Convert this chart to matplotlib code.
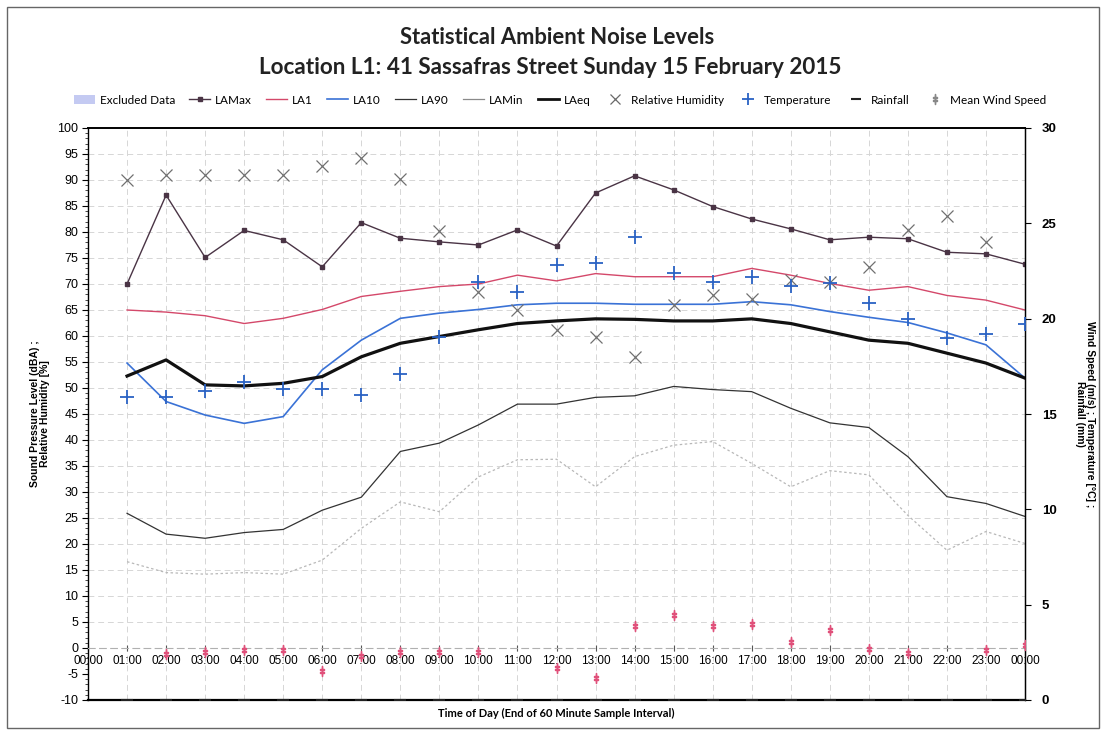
import numpy as np
import matplotlib
matplotlib.use("Agg")
import matplotlib.pyplot as plt
from matplotlib.lines import Line2D
from matplotlib.patches import Patch, Rectangle

# Hour of day at the end of each 60 minute interval (24 = midnight)
hours = list(range(1, 25))
hour_labels = ["%02d:00" % (h % 24) for h in range(0, 25)]

# Sound levels, dB(A)
la_max = [70.0, 87.1, 75.1, 80.3, 78.5, 73.3, 81.8, 78.8, 78.1, 77.5, 80.4, 77.3,
          87.5, 90.8, 88.1, 84.9, 82.5, 80.6, 78.5, 79.0, 78.7, 76.1, 75.8, 73.8]
la_1 = [65.0, 64.6, 63.9, 62.4, 63.4, 65.1, 67.6, 68.6, 69.5, 70.0, 71.7, 70.6,
        72.0, 71.4, 71.4, 71.4, 73.0, 71.7, 70.1, 68.8, 69.5, 67.8, 66.9, 65.0]
la_10 = [54.8, 47.4, 44.8, 43.2, 44.5, 53.5, 59.2, 63.4, 64.4, 65.1, 66.0, 66.3,
         66.3, 66.1, 66.1, 66.1, 66.6, 66.0, 64.7, 63.6, 62.6, 60.6, 58.3, 51.9]
la_90 = [25.9, 21.9, 21.1, 22.2, 22.8, 26.5, 29.0, 37.8, 39.4, 42.9, 46.9, 46.9,
         48.2, 48.5, 50.3, 49.7, 49.3, 46.1, 43.3, 42.4, 36.8, 29.1, 27.8, 25.3]
la_min = [16.6, 14.5, 14.2, 14.5, 14.2, 16.9, 23.0, 28.1, 26.2, 32.9, 36.2, 36.3,
          31.0, 36.8, 39.0, 39.7, 35.5, 31.0, 34.1, 33.3, 25.5, 18.8, 22.4, 20.1]
la_eq = [52.3, 55.4, 50.6, 50.4, 50.9, 52.2, 56.0, 58.6, 59.9, 61.2, 62.4, 62.9,
         63.3, 63.2, 62.9, 62.9, 63.3, 62.4, 60.8, 59.2, 58.6, 56.7, 54.8, 51.9]

# Weather, relative humidity in % (left axis)
rel_humidity = [90.0, 91.0, 91.0, 91.0, 91.0, 92.7, 94.2, 90.1, 80.1, 68.5, 65.0, 61.2,
                59.9, 56.0, 66.0, 67.9, 67.2, 70.8, 70.4, 73.3, 80.4, 83.1, 78.1, np.nan]
# Weather on the right axis: temperature (degC), rainfall (mm), wind speed (m/s)
temperature = [15.9, 15.9, 16.2, 16.7, 16.3, 16.3, 16.0, 17.1, 19.05, 21.9, 21.4, 22.8,
               22.9, 24.3, 22.4, 21.9, 22.2, 21.7, 21.85, 20.8, 20.0, 19.0, 19.2, 19.7]
rainfall = [0.0] * 24
wind_speed = [np.nan, 2.4, 2.5, 2.6, 2.6, 1.5, 2.3, 2.5, 2.5, 2.5, np.nan, 1.7,
              1.15, 3.9, 4.45, 3.9, 4.0, 3.05, 3.67, 2.7, 2.45, np.nan, 2.6, 2.9]

W, H = 1103, 731
fig = plt.figure(figsize=(W / 100, H / 100), dpi=100)
fig.patch.set_facecolor("white")

L, R, T, B = 88, 1025, 128, 700
ax = fig.add_axes([L / W, 1 - B / H, (R - L) / W, (B - T) / H])
ax2 = ax.twinx()

tick_font = "Liberation Sans"
label_font = "Lato"

# Category axis crosses the value axis at zero (set before tick styling,
# since moving a spine rebuilds its ticks)
ax.spines["bottom"].set_position(("data", 0))
ax.spines["bottom"].set_color("#b0b0b0")
ax.spines["bottom"].set_linewidth(0.8)
ax.spines["bottom"].set_linestyle((0, (6, 4)))
ax.plot([0, 1], [0, 0], transform=ax.transAxes, color="black", lw=1.6,
        clip_on=False, zorder=7)
ax.spines["left"].set_linewidth(1.0)
ax.spines["top"].set_linewidth(1.4)
for s in ("bottom", "top", "left"):
    ax2.spines[s].set_visible(False)
ax2.spines["right"].set_linewidth(1.0)

# Grid
grid_kw = dict(color="#d6d6d6", lw=0.7, dashes=(6, 4), zorder=0)
for h in range(1, 24):
    ax.axvline(h, **grid_kw)
for v in range(5, 100, 5):
    ax.axhline(v, **grid_kw)

# Noise level traces
ax.plot(hours, la_max, color="#4a3445", lw=1.0, marker="s", ms=2.4, zorder=4)
ax.plot(hours, la_1, color="#d4486a", lw=1.0, zorder=4)
ax.plot(hours, la_10, color="#3a72d6", lw=1.2, zorder=4)
ax.plot(hours, la_90, color="#333333", lw=0.9, zorder=4)
ax.plot(hours, la_min, color="#b8b8b8", lw=0.9, ls=(0, (2, 2)), zorder=4)
ax.plot(hours, la_eq, color="#111111", lw=2.3, zorder=5)
ax.plot(hours, rel_humidity, ls="none", marker="x", ms=8, mew=0.9, color="#707070", zorder=6)

ax2.plot(hours, temperature, ls="none", marker="+", ms=10, mew=1.3, color="#2a62c4", zorder=6)
ax2.plot(hours, rainfall, ls="none", marker="_", ms=8, mew=1.5, color="#222222", zorder=6)
ax2.plot(hours, wind_speed, ls="none", marker=r"$\ddagger$", ms=6.5, color="#e0507a", zorder=6)

# Axes limits and ticks
ax.set_xlim(0, 24)
ax.set_ylim(-10, 100)
ax2.set_ylim(0, 30)

ax.set_xticks(range(0, 25))
ax.set_xticklabels(hour_labels, fontsize=8.5, family=tick_font)
ax.set_yticks(range(-10, 101, 5))
ax.set_yticklabels([str(v) for v in range(-10, 101, 5)], fontsize=9, family=tick_font)
ax.set_yticks(range(-10, 101, 1), minor=True)
ax.tick_params(axis="y", which="major", length=4, width=0.8, direction="out", pad=3)
ax.tick_params(axis="y", which="minor", length=2, width=0.5, direction="out")
ax.tick_params(axis="x", length=4, width=0.8, direction="inout", pad=3, color="#555555")

ax2.set_yticks(range(0, 31, 5))
ax2.set_yticklabels([str(v) for v in range(0, 31, 5)], fontsize=9.5,
                    family=tick_font, fontweight="bold")
ax2.tick_params(axis="y", length=4, width=0.8, direction="out", pad=8)

ax.set_ylabel("Sound Pressure Level (dBA) ;\nRelative Humidity [%]", fontsize=7.5,
              fontweight="bold", family=tick_font, labelpad=5, linespacing=1.1)
ax2.set_ylabel("Wind Speed (m/s) ; Temperature [°C] ;\nRainfall (mm)", fontsize=7.5,
               fontweight="bold", family=tick_font, rotation=-90, labelpad=28,
               linespacing=1.1)
fig.text(0.5 * (L + R) / W, 1 - 713 / H, "Time of Day (End of 60 Minute Sample Interval)",
         ha="center", va="center", fontsize=8, fontweight="bold", family=label_font)

# Titles
fig.text(557 / W, 1 - 37 / H, "Statistical Ambient Noise Levels", ha="center",
         va="center", fontsize=15.8, fontweight="bold", family=label_font, color="#222222")
fig.text(550 / W, 1 - 68 / H, "Location L1: 41 Sassafras Street Sunday 15 February 2015",
         ha="center", va="center", fontsize=16.2, fontweight="bold", family=label_font,
         color="#222222")

# Legend
handles = [
    Patch(facecolor="#c4caf2", edgecolor="none"),
    Line2D([], [], color="#4a3445", lw=1.0, marker="s", ms=2.2),
    Line2D([], [], color="#d4486a", lw=1.0),
    Line2D([], [], color="#3a72d6", lw=1.2),
    Line2D([], [], color="#333333", lw=0.9),
    Line2D([], [], color="#8a8a8a", lw=0.9),
    Line2D([], [], color="#111111", lw=2.0),
    Line2D([], [], ls="none", marker="x", ms=7, mew=0.9, color="#6a6a6a"),
    Line2D([], [], ls="none", marker="+", ms=8, mew=1.3, color="#2a62c4"),
    Line2D([], [], ls="none", marker="_", ms=7, mew=1.5, color="#222222"),
    Line2D([], [], ls="none", marker=r"$\ddagger$", ms=6.5, color="#888888"),
]
names = ["Excluded Data", "LAMax", "LA1", "LA10", "LA90", "LAMin", "LAeq",
         "Relative Humidity", "Temperature", "Rainfall", "Mean Wind Speed"]
fig.legend(handles, names, loc="center", bbox_to_anchor=(560 / W, 1 - 100 / H),
           ncol=11, frameon=False, handlelength=1.8, handletextpad=0.4,
           columnspacing=1.2, prop={"family": label_font, "size": 8.5})

# Outer border
fig.add_artist(Rectangle((7 / W, 1 - 728 / H), (1099 - 7) / W, (728 - 7) / H,
                         transform=fig.transFigure, fill=False, edgecolor="#666666",
                         lw=1.0))

fig.savefig("out.png", dpi=100)
